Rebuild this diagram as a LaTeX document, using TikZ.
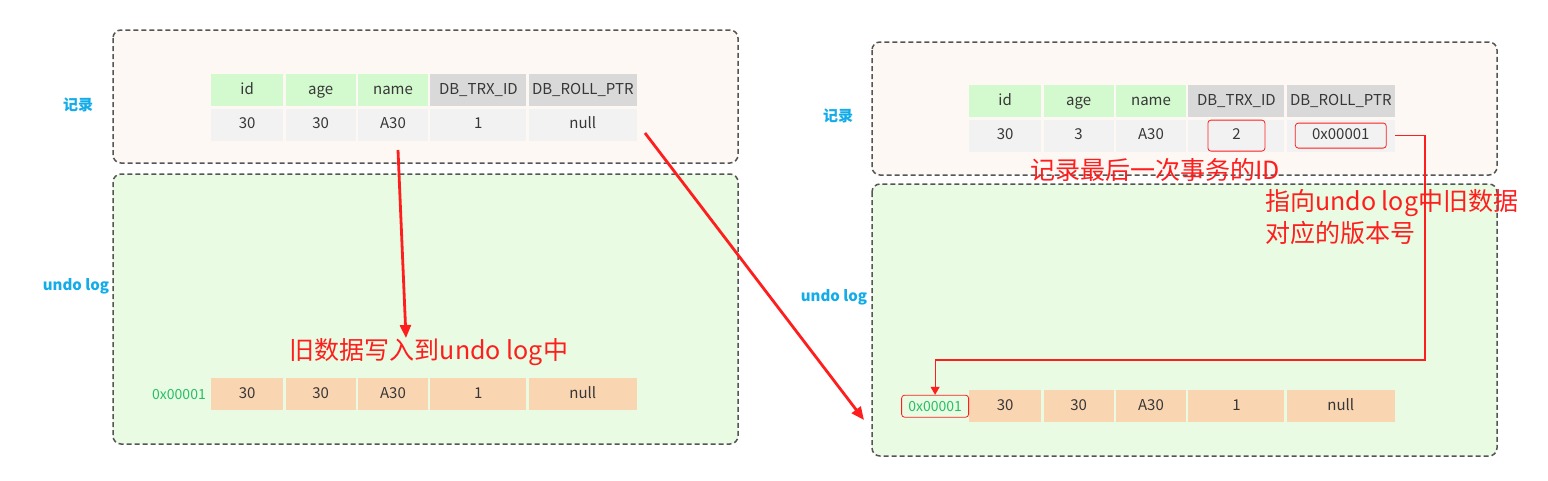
\documentclass[tikz,border=0pt]{standalone}
\usepackage{fontspec}
\setmainfont{Noto Sans CJK SC}
\usetikzlibrary{arrows.meta, positioning}
\definecolor{panelgray}{RGB}{85, 85, 85}
\definecolor{recfill}{RGB}{253, 248, 244}
\definecolor{undofill}{RGB}{233, 251, 227}
\definecolor{hdgreen}{RGB}{211, 249, 206}
\definecolor{hdgray}{RGB}{217, 217, 217}
\definecolor{rowgray}{RGB}{242, 242, 242}
\definecolor{peach}{RGB}{250, 213, 178}
\definecolor{labelblue}{RGB}{20, 172, 232}
\definecolor{addrgreen}{RGB}{40, 190, 100}
\definecolor{notered}{RGB}{255, 30, 30}
\definecolor{txtgray}{RGB}{55, 55, 55}

\begin{document}
\begin{tikzpicture}[
    x=1pt, y=-1pt,
    panel/.style={draw=panelgray, line width=1.5pt, dash pattern=on 5pt off 3pt, rounded corners=8pt},
    recpanel/.style={panel, fill=recfill},
    undopanel/.style={panel, fill=undofill},
    cell/.style={minimum height=32pt, inner sep=0pt, text=txtgray,
        text height=11pt, text depth=3pt,
        font=\fontsize{15}{17}\selectfont},
    hcell/.style={cell, fill=hdgreen},
    scell/.style={cell, fill=hdgray},
    dcell/.style={cell, fill=rowgray},
    ucell/.style={cell, fill=peach},
    idcol/.style={minimum width=72pt},
    agecol/.style={minimum width=70pt},
    namecol/.style={minimum width=70pt},
    trxcol/.style={minimum width=96pt},
    ptrcol/.style={minimum width=108pt},
    sidelabel/.style={text=labelblue, font=\fontsize{15}{17}\selectfont\bfseries},
    addr/.style={text=addrgreen, inner sep=2pt, font=\fontsize{14}{16}\selectfont},
    redbox/.style={draw=notered, line width=0.8pt, rounded corners=3pt},
    note/.style={text=notered, inner sep=0pt, font=\fontsize{25}{32}\selectfont},
    bigarrow/.style={-{Triangle[length=13pt, width=11pt]}, notered, line width=2.8pt},
    link/.style={-{Triangle[length=8pt, width=9pt]}, notered, line width=1.2pt}
]
\useasboundingbox (0,0) rectangle (1548,480);

% PANELS
\draw[recpanel] (113,30) rectangle (738,163);
\draw[undopanel] (113,174) rectangle (738,444);
\draw[recpanel] (872,42) rectangle (1497,175);
\draw[undopanel] (872,184) rectangle (1497,456);

% SIDE LABELS
\node[sidelabel] (lrec) at (78,105) {记录};
\node[sidelabel] (lundo) at (76,286) {undo log};
\node[sidelabel] (rrec) at (838,116) {记录};
\node[sidelabel] (rundo) at (834,297) {undo log};

% LEFT RECORD - header row
\node[hcell, idcol, anchor=north west] (lhid) at (211,74) {id};
\node[hcell, agecol, right=2pt of lhid] (lhage) {age};
\node[hcell, namecol, right=2pt of lhage] (lhname) {name};
\node[scell, trxcol, right=2pt of lhname] (lhtrx) {DB\_TRX\_ID};
\node[scell, ptrcol, right=2pt of lhtrx] (lhptr) {DB\_ROLL\_PTR};

% LEFT RECORD - data row
\node[dcell, idcol, below=2pt of lhid] (ldid) {30};
\node[dcell, agecol, below=2pt of lhage] (ldage) {30};
\node[dcell, namecol, below=2pt of lhname] (ldname) {A30};
\node[dcell, trxcol, below=2pt of lhtrx] (ldtrx) {1};
\node[dcell, ptrcol, below=2pt of lhptr] (ldptr) {null};

% LEFT UNDO LOG row
\node[ucell, idcol, anchor=north west] (luid) at (211,378) {30};
\node[ucell, agecol, right=2pt of luid] (luage) {30};
\node[ucell, namecol, right=2pt of luage] (luname) {A30};
\node[ucell, trxcol, right=2pt of luname] (lutrx) {1};
\node[ucell, ptrcol, right=2pt of lutrx] (luptr) {null};
\node[addr, left=3pt of luid] (luaddr) {0x00001};

\node[note] (lnote) at (429,352) {旧数据写入到undo log中};

% RIGHT RECORD - header row
\node[hcell, idcol, anchor=north west] (rhid) at (969,85) {id};
\node[hcell, agecol, right=2pt of rhid] (rhage) {age};
\node[hcell, namecol, right=2pt of rhage] (rhname) {name};
\node[scell, trxcol, right=2pt of rhname] (rhtrx) {DB\_TRX\_ID};
\node[scell, ptrcol, right=2pt of rhtrx] (rhptr) {DB\_ROLL\_PTR};

% RIGHT RECORD - data row
\node[dcell, idcol, below=2pt of rhid] (rdid) {30};
\node[dcell, agecol, below=2pt of rhage] (rdage) {3};
\node[dcell, namecol, below=2pt of rhname] (rdname) {A30};
\node[dcell, trxcol, below=2pt of rhtrx] (rdtrx) {2};
\node[dcell, ptrcol, below=2pt of rhptr] (rdptr) {0x00001};
\node[redbox, minimum width=57pt, minimum height=31pt] (rtrxbox) at (rdtrx.center) {};
\node[redbox, minimum width=91pt, minimum height=25pt] (rptrbox) at (rdptr.center) {};

% RIGHT UNDO LOG row
\node[ucell, idcol, anchor=north west] (ruid) at (969,390) {30};
\node[ucell, agecol, right=2pt of ruid] (ruage) {30};
\node[ucell, namecol, right=2pt of ruage] (runame) {A30};
\node[ucell, trxcol, right=2pt of runame] (rutrx) {1};
\node[ucell, ptrcol, right=2pt of rutrx] (ruptr) {null};
\node[addr, redbox, minimum width=67pt, minimum height=22pt, left=0pt of ruid] (ruaddr) {0x00001};

\node[note] (rnote) at (1155,170) {记录最后一次事务的ID};
\node[note, anchor=north west, align=left] (rptrnote) at (1265,189) {指向undo log中旧数据\\对应的版本号};

% ARROWS
\coordinate (lsrc) at (398,150);
\coordinate (ldst) at (406,338);
\coordinate (jsrc) at (645,133);
\coordinate (jdst) at (864,420);
\coordinate (bend) at (1425,360);

\draw[bigarrow] (lsrc) -- (ldst);
\draw[bigarrow] (jsrc) -- (jdst);
\draw[link] (rdptr.east) -| (bend) -| (ruaddr.north);

\end{tikzpicture}
\end{document}
